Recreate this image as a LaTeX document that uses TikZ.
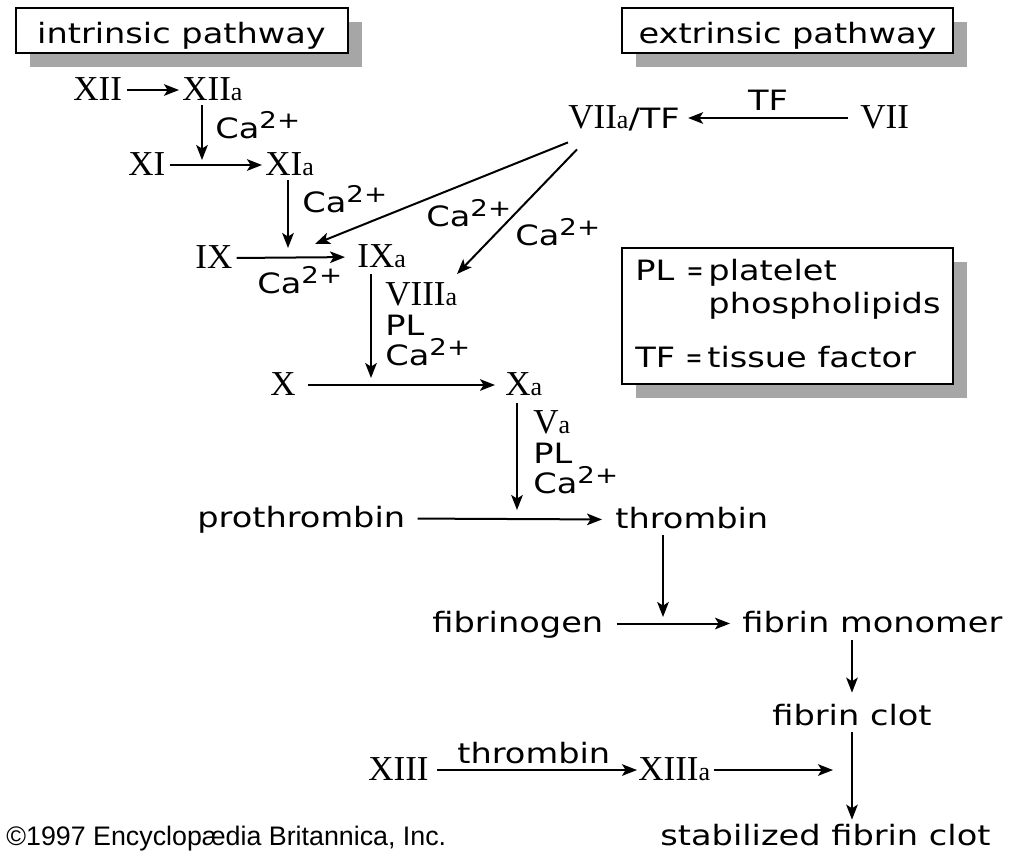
\documentclass[tikz,border=0pt]{standalone}
\usepackage{fontspec}
\usepackage{graphicx}
\setmainfont[FakeStretch=1.2]{DejaVu Sans}
\newfontfamily\facfont{Liberation Serif}
\newfontfamily\creditfont{Liberation Sans}
\usetikzlibrary{arrows.meta,shadows}
\definecolor{shade}{HTML}{A6A6A6}
% activated-factor suffix and calcium ion
\newcommand{\act}{{\fontsize{13}{13}\selectfont a}}
\newcommand{\caion}{Ca\raisebox{5pt}{\fontsize{11.5}{11.5}\selectfont 2+}}
\begin{document}
\begin{tikzpicture}[x=0.5pt,y=-0.5pt,
  fac/.style={inner sep=0pt,anchor=base west,text height=10pt,text depth=0pt,
    font=\facfont\fontsize{17.5}{17.5}\selectfont},
  txt/.style={inner sep=0pt,anchor=base west,text height=8.5pt,text depth=0pt,
    font=\fontsize{14}{16}\selectfont},
  arr/.style={line width=1pt,-{Stealth[length=7.5pt,width=5.8pt,inset=1.8pt]},
    shorten <=2pt,shorten >=1.5pt},
  titlebox/.style={draw,line width=1pt,fill=white,inner sep=0pt,
    minimum width=166pt,minimum height=22.5pt,text height=12.5pt,text depth=0pt,
    font=\fontsize{14}{16}\selectfont,
    drop shadow={shadow xshift=7pt,shadow yshift=-7pt,fill=shade,opacity=1}},
]
\useasboundingbox (0,0) rectangle (1015,852);

% headings and key
\node[titlebox] (intr) at (181.5,30.5) {intrinsic pathway};
\node[titlebox,minimum width=165.5pt] (extr) at (787.5,30.5) {extrinsic pathway};
\node[titlebox,minimum width=165.5pt,minimum height=68pt] (legend) at (787.5,316) {};
\node[txt] (keypl) at (635,280) {\makebox[36.5pt][l]{PL\hfill\scalebox{0.6}[1]{=}\hspace{2.5pt}}platelet};
\node[txt] (keyphos) at (708,313) {phospholipids};
\node[txt] (keytf) at (635,367) {\makebox[36pt][l]{TF\hfill\scalebox{0.6}[1]{=}\hspace{2.5pt}}tissue factor};

% clotting factors
\node[fac] (XII) at (73,100) {XII};
\node[fac] (XIIa) at (182,100) {XII\act};
\node[fac] (XI) at (128,175) {XI};
\node[fac] (XIa) at (265,175) {XI\act};
\node[fac] (IX) at (195,268) {IX};
\node[fac] (IXa) at (357,267) {IX\act};
\node[fac] (VIIaTF) at (568,128) {VII\act{\rmfamily\fontsize{14}{16}\selectfont/TF}};
\node[fac] (VII) at (860,128) {VII};
\node[fac] (VIIIa) at (385,305) {VIII\act};
\node[fac] (X) at (270,395) {X};
\node[fac] (Xa) at (505,395) {X\act};
\node[fac] (Va) at (533,433) {V\act};
\node[fac] (XIII) at (368,780) {XIII};
\node[fac] (XIIIa) at (638,780) {XIII\act};

% cofactors and products
\node[txt] (ca1) at (215,138) {\caion};
\node[txt] (ca2) at (302,212) {\caion};
\node[txt] (ca3) at (257,293) {\caion};
\node[txt] (ca4) at (426,226) {\caion};
\node[txt] (ca5) at (515,245) {\caion};
\node[txt,anchor=base] (tf) at (768,110) {TF};
\node[txt] (pl1) at (385,335) {PL};
\node[txt] (ca6) at (385,365) {\caion};
\node[txt] (pl2) at (533,463) {PL};
\node[txt] (ca7) at (533,493) {\caion};
\node[txt] (prothr) at (197,527) {prothrombin};
\node[txt] (thr) at (615,528) {thrombin};
\node[txt] (fbgn) at (432,632) {fibrinogen};
\node[txt] (fmono) at (742,632) {fibrin monomer};
\node[txt] (fclot) at (772,725) {fibrin clot};
\node[txt] (thrlbl) at (457,763) {thrombin};
\node[txt] (stab) at (660,845) {stabilized fibrin clot};

% points where arrows meet other arrows
\coordinate (j1) at (202,160);
\coordinate (j2) at (288,248);
\coordinate (j3) at (371,378);
\coordinate (j4) at (517,510);
\coordinate (j5) at (663,617);
\coordinate (k1) at (315,244);
\coordinate (k2) at (457,274);
\coordinate (xend) at (833,772);

% cascade
\draw[arr,shorten <=2.5pt] (XII.east) -- (XIIa.west);
\draw[arr,shorten <=2.5pt,shorten >=0pt] (XIIa.south -| j1) -- (j1);
\draw[arr] (XI.east) -- (XIa.west);
\draw[arr,shorten <=2.5pt,shorten >=0pt] (XIa.south -| j2) -- (j2);
\draw[arr,shorten >=6pt] (IX.east) -- (IXa.west);
\draw[arr,shorten <=6pt,shorten >=4pt] (VII.west) -- (VIIaTF.east);
\draw[arr,shorten <=0pt,shorten >=0pt] ([yshift=-7pt]VIIaTF.south west) -- (k1);
\draw[arr,shorten <=0pt,shorten >=0pt] ([xshift=4.5pt,yshift=-10.5pt]VIIaTF.south west) -- (k2);
\draw[arr,shorten <=3.5pt,shorten >=0pt] (IXa.south -| j3) -- (j3);
\draw[arr,shorten <=6pt,shorten >=5pt] (X.east) -- (Xa.west);
\draw[arr,shorten <=4pt,shorten >=0pt] (Xa.south -| j4) -- (j4);
\draw[arr,shorten <=6pt,shorten >=6.5pt] (prothr.east) -- (thr.west);
\draw[arr,shorten <=3.5pt,shorten >=0pt] (thr.south -| j5) -- (j5);
\draw[arr,shorten <=6.5pt,shorten >=6pt] (fbgn.east) -- (fmono.west);
\draw[arr,shorten <=4pt,shorten >=7.5pt] (fmono.south -| fclot.north) -- (fclot.north);
\draw[arr,shorten <=3.5pt,shorten >=4pt] (fclot.south) -- (fclot.south |- stab.north);
\draw[arr,shorten <=4pt,shorten >=0.5pt] (XIII.east) -- (XIIIa.west);
\draw[arr,shorten <=1.5pt,shorten >=0pt] (XIIIa.east) -- (XIIIa.east -| xend);

% credit line along the lower edge
\node[inner sep=0pt,anchor=base west,font=\creditfont\fontsize{13.4}{14}\selectfont] (credit) at (6,845) {©1997 Encyclopædia Britannica, Inc.};
\end{tikzpicture}
\end{document}
